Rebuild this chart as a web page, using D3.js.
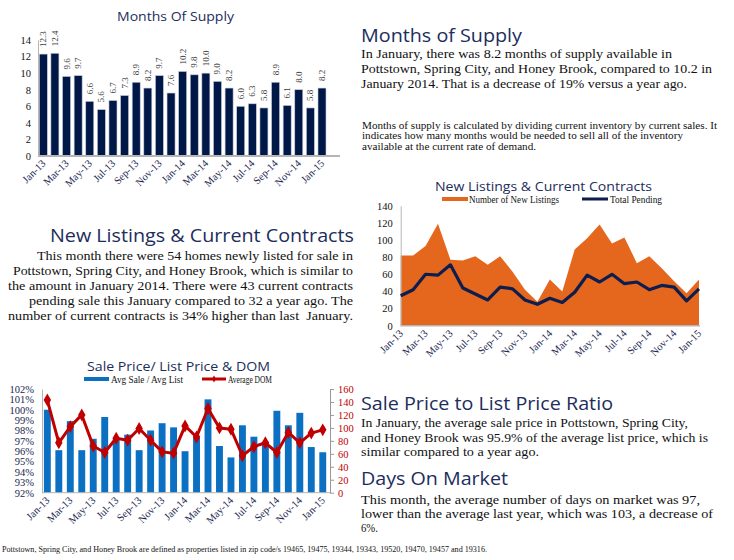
<!DOCTYPE html>
<html>
<head>
<meta charset="utf-8">
<script src="https://cdn.jsdelivr.net/npm/d3@7"></script>
<style>
  html, body { margin: 0; padding: 0; background: #fff; }
  svg { display: block; }
</style>
</head>
<body>
<svg id="page" width="734" height="560"></svg>
<script>
(function () {
  "use strict";

  const months = ["Jan-13", "Feb-13", "Mar-13", "Apr-13", "May-13", "Jun-13", "Jul-13", "Aug-13", "Sep-13",
    "Oct-13", "Nov-13", "Dec-13", "Jan-14", "Feb-14", "Mar-14", "Apr-14", "May-14", "Jun-14", "Jul-14",
    "Aug-14", "Sep-14", "Oct-14", "Nov-14", "Dec-14", "Jan-15"];
  const tickMonths = ["Jan-13", "Mar-13", "May-13", "Jul-13", "Sep-13", "Nov-13", "Jan-14", "Mar-14",
    "May-14", "Jul-14", "Sep-14", "Nov-14", "Jan-15"];

  const supply = [12.3, 12.4, 9.6, 9.7, 6.6, 5.6, 6.7, 7.3, 8.9, 8.2, 9.7, 7.6, 10.2, 9.8, 10.0, 9.0, 8.2,
    6.0, 6.3, 5.8, 8.9, 6.1, 8.0, 5.8, 8.2];
  const supplyTicks = [0, 2, 4, 6, 8, 10, 12, 14];

  const newListings = [82, 82, 93, 119, 77, 76, 81, 71, 81, 63, 42, 28, 54, 40, 89, 102, 118, 96, 103, 73,
    81, 67, 52, 38, 54];
  const totalPending = [35, 42, 60, 59, 71, 44, 37, 30, 45, 43, 30, 25, 32, 27, 39, 59, 51, 60, 49, 51, 42,
    47, 45, 29, 43];
  const listingTicks = [0, 20, 40, 60, 80, 100, 120, 140];

  const saleToList = [100.0, 96.1, 98.9, 96.1, 97.2, 99.3, 97.2, 97.6, 96.1, 98.0, 98.7, 98.3, 96.0, 97.3,
    101.0, 96.5, 95.4, 98.5, 97.4, 96.9, 99.9, 98.5, 99.7, 96.4, 95.9];
  const avgDom = [143, 77, 102, 120, 72, 62, 84, 81, 99, 81, 63, 61, 103, 86, 130, 100, 98, 57, 71, 77, 62,
    93, 77, 92, 97];
  const ratioTicks = [92, 93, 94, 95, 96, 97, 98, 99, 100, 101, 102];
  const domTicks = [0, 20, 40, 60, 80, 100, 120, 140, 160];

  const supplyHeading = "Months of Supply";
  const supplyBody = [
    "In January, there was 8.2 months of supply available in",
    "Pottstown, Spring City, and Honey Brook, compared to 10.2 in",
    "January 2014. That is a decrease of 19% versus a year ago."
  ];
  const supplyNote = [
    "Months of supply is calculated by dividing current inventory by current sales. It",
    "indicates how many months would be needed to sell all of the inventory",
    "available at the current rate of demand."
  ];
  const listingsHeading = "New Listings & Current Contracts";
  const listingsBody = [
    "This month there were 54 homes newly listed for sale in",
    "Pottstown, Spring City, and Honey Brook, which is similar to",
    "the amount in January 2014. There were 43 current contracts",
    "pending sale this January compared to 32 a year ago. The",
    "number of current contracts is 34% higher than last  January."
  ];
  const ratioHeading = "Sale Price to List Price Ratio";
  const ratioBody = [
    "In January, the average sale price in Pottstown, Spring City,",
    "and Honey Brook was 95.9% of the average list price, which is",
    "similar compared to a year ago."
  ];
  const domHeading = "Days On Market";
  const domBody = [
    "This month, the average number of days on market was 97,",
    "lower than the average last year, which was 103, a decrease of",
    "6%."
  ];
  const footnote = "Pottstown, Spring City, and Honey Brook are defined as properties listed in zip code/s 19465, 19475, 19344, 19343, 19520, 19470, 19457 and 19316.";

  const SANS = "'Open Sans', Lato, sans-serif";
  const SERIF = "'Liberation Serif', 'Times New Roman', serif";
  const NAVY_TEXT = "#1d2d5c";
  const AXIS_GREY = "#b5b5b5";

  const svg = d3.select("#page");

  function addText(parent, str, x, y, o) {
    const t = parent.append("text")
      .attr("x", x)
      .attr("y", y)
      .attr("font-family", o.family || SERIF)
      .attr("font-size", o.size)
      .attr("fill", o.fill || "#111")
      .attr("text-anchor", o.anchor || "start")
      .style("white-space", "pre")
      .text(str);
    if (o.width) t.attr("textLength", o.width).attr("lengthAdjust", "spacingAndGlyphs");
    return t;
  }

  function styleTicks(axisG, size, fill) {
    axisG.selectAll("text")
      .attr("font-family", SERIF)
      .attr("font-size", size)
      .attr("fill", fill);
  }

  function monthLabels(g, xPos, y, size) {
    g.append("g").selectAll("text")
      .data(tickMonths)
      .join("text")
      .attr("transform", d => `translate(${xPos(d) + 3},${y}) rotate(-45)`)
      .attr("text-anchor", "end")
      .attr("font-family", SERIF)
      .attr("font-size", size)
      .attr("fill", "#1a2550")
      .text(d => d);
  }

  // ---- Months of supply chart
  (function () {
    const g = svg.append("g");
    const x = d3.scaleBand().domain(months).range([37.5, 327.8]).paddingInner(0.31).paddingOuter(0.155);
    const y = d3.scaleLinear().domain([0, 14]).range([156, 40]);

    addText(g, "Months Of Supply", 175.5, 21, { family: SANS, size: 13.5, fill: NAVY_TEXT, anchor: "middle", width: 117 });

    const yAxis = g.append("g")
      .attr("transform", "translate(38,0)")
      .call(d3.axisLeft(y).tickValues(supplyTicks).tickSize(0).tickPadding(7));
    yAxis.select(".domain").attr("stroke", AXIS_GREY);
    styleTicks(yAxis, 10.5, "#111");

    g.append("g").selectAll("rect")
      .data(supply)
      .join("rect")
      .attr("x", (d, i) => x(months[i]))
      .attr("width", x.bandwidth())
      .attr("y", d => y(d))
      .attr("height", d => y(0) - y(d))
      .attr("fill", "#001848")
      .attr("stroke", "#c9ccd6")
      .attr("stroke-width", 0.6);

    g.append("line")
      .attr("x1", 38).attr("x2", 340)
      .attr("y1", y(0)).attr("y2", y(0))
      .attr("stroke", AXIS_GREY).attr("stroke-width", 2);

    g.append("g").selectAll("text")
      .data(supply)
      .join("text")
      .attr("transform", (d, i) => `translate(${x(months[i]) + x.bandwidth() / 2 + 3},${y(d) - 7}) rotate(-90)`)
      .attr("font-family", SERIF)
      .attr("font-size", 9)
      .attr("fill", "#3a3a3a")
      .text(d => d.toFixed(1));

    monthLabels(g, m => x(m) + x.bandwidth() / 2, 164, 10.5);
  })();

  // ---- New listings & contracts chart
  (function () {
    const g = svg.append("g");
    const x = d3.scalePoint().domain(months).range([400.7, 699]);
    const y = d3.scaleLinear().domain([0, 140]).range([325.7, 205.7]);

    addText(g, "New Listings & Current Contracts", 543.5, 190.5, { family: SANS, size: 13.5, fill: NAVY_TEXT, anchor: "middle", width: 217 });

    g.append("rect").attr("x", 442).attr("y", 197).attr("width", 26).attr("height", 4).attr("fill", "#e5671d");
    addText(g, "Number of New Listings", 469, 202.5, { size: 9.5, width: 90 });
    g.append("line").attr("x1", 582).attr("x2", 608).attr("y1", 199).attr("y2", 199)
      .attr("stroke", "#0d1d4d").attr("stroke-width", 3);
    addText(g, "Total Pending", 610, 202.5, { size: 9.5, width: 52 });

    const area = d3.area()
      .x((d, i) => x(months[i]))
      .y0(y(0))
      .y1(d => y(d));
    g.append("path").datum(newListings).attr("d", area).attr("fill", "#e5671d");

    const yAxis = g.append("g")
      .attr("transform", "translate(400.7,0)")
      .call(d3.axisLeft(y).tickValues(listingTicks).tickSize(0).tickPadding(8));
    yAxis.select(".domain").attr("stroke", AXIS_GREY);
    styleTicks(yAxis, 10.5, "#111");

    g.append("line")
      .attr("x1", 400.7).attr("x2", 700)
      .attr("y1", y(0)).attr("y2", y(0))
      .attr("stroke", AXIS_GREY).attr("stroke-width", 1.5);

    const line = d3.line().x((d, i) => x(months[i])).y(d => y(d));
    g.append("path").datum(totalPending).attr("d", line)
      .attr("fill", "none").attr("stroke", "#0d1d4d").attr("stroke-width", 3.2)
      .attr("stroke-linejoin", "round");

    monthLabels(g, x, 334, 10.5);
  })();

  // ---- Sale price / list price & DOM chart
  (function () {
    const g = svg.append("g");
    const x = d3.scaleBand().domain(months).range([41.6, 328.5]).paddingInner(0.4).paddingOuter(0.2);
    const yL = d3.scaleLinear().domain([92, 102]).range([492.7, 389]);
    const yR = d3.scaleLinear().domain([0, 160]).range([492.7, 389]);

    addText(g, "Sale Price/ List Price & DOM", 178.5, 370.5, { family: SANS, size: 13.5, fill: NAVY_TEXT, anchor: "middle", width: 183 });

    g.append("rect").attr("x", 84).attr("y", 377).attr("width", 25).attr("height", 4).attr("fill", "#0b6fc2");
    addText(g, "Avg Sale / Avg List", 111, 382.5, { size: 9.5, width: 72 });
    g.append("line").attr("x1", 202).attr("x2", 226).attr("y1", 379).attr("y2", 379)
      .attr("stroke", "#c00000").attr("stroke-width", 3);
    g.append("path").attr("d", d3.symbol(d3.symbolDiamond, 14)())
      .attr("transform", "translate(214,379)").attr("fill", "#c00000");
    addText(g, "Average DOM", 228, 382.5, { size: 9.5, width: 44 });

    g.append("g").selectAll("rect")
      .data(saleToList)
      .join("rect")
      .attr("x", (d, i) => x(months[i]))
      .attr("width", x.bandwidth())
      .attr("y", d => yL(d))
      .attr("height", d => yL(92) - yL(d))
      .attr("fill", "#0b6fc2");

    const left = g.append("g")
      .attr("transform", "translate(42,0)")
      .call(d3.axisLeft(yL).tickValues(ratioTicks).tickSize(0).tickPadding(8).tickFormat(d => d + "%"));
    left.select(".domain").attr("stroke", AXIS_GREY);
    styleTicks(left, 10.5, "#1a2550");

    const right = g.append("g")
      .attr("transform", "translate(330,0)")
      .call(d3.axisRight(yR).tickValues(domTicks).tickSize(4).tickSizeOuter(0).tickPadding(4));
    right.select(".domain").attr("stroke", "#999");
    right.selectAll(".tick line").attr("stroke", "#999");
    styleTicks(right, 10.5, "#c00000");

    g.append("line")
      .attr("x1", 42).attr("x2", 330)
      .attr("y1", yL(92)).attr("y2", yL(92))
      .attr("stroke", AXIS_GREY).attr("stroke-width", 1);

    const cx = (d, i) => x(months[i]) + x.bandwidth() / 2;
    const line = d3.line().x(cx).y(d => yR(d));
    g.append("path").datum(avgDom).attr("d", line)
      .attr("fill", "none").attr("stroke", "#c00000").attr("stroke-width", 3)
      .attr("stroke-linejoin", "round");
    g.append("g").selectAll("path")
      .data(avgDom)
      .join("path")
      .attr("d", d3.symbol(d3.symbolDiamond, 48)())
      .attr("transform", (d, i) => `translate(${cx(d, i)},${yR(d)})`)
      .attr("fill", "#c00000");

    monthLabels(g, m => x(m) + x.bandwidth() / 2, 501, 10.5);
  })();

  // ---- commentary text
  const txt = svg.append("g");
  addText(txt, supplyHeading, 361, 41.5, { family: SANS, size: 19, fill: NAVY_TEXT, width: 161 });
  [311, 351, 326].forEach((w, i) => addText(txt, supplyBody[i], 361, 57.5 + i * 15.1, { size: 13.5, width: w }));
  [355, 321, 174].forEach((w, i) => addText(txt, supplyNote[i], 362, 128.5 + i * 10.8, { size: 10, width: w }));

  addText(txt, listingsHeading, 354, 242, { family: SANS, size: 19, fill: NAVY_TEXT, anchor: "end", width: 304 });
  [316, 340, 345, 324, 345].forEach((w, i) => addText(txt, listingsBody[i], 353, 259.5 + i * 15, { size: 13.5, anchor: "end", width: w }));

  addText(txt, ratioHeading, 361, 409.5, { family: SANS, size: 19, fill: NAVY_TEXT, width: 252 });
  [327, 347, 178].forEach((w, i) => addText(txt, ratioBody[i], 361, 427 + i * 14.6, { size: 13.5, width: w }));

  addText(txt, domHeading, 361, 484.5, { family: SANS, size: 19, fill: NAVY_TEXT, width: 147 });
  [339, 352, 17].forEach((w, i) => addText(txt, domBody[i], 361, 503.5 + i * 14.2, { size: 13.5, width: w }));

  addText(txt, footnote, 2, 552, { size: 8, width: 485 });
})();
</script>
</body>
</html>
